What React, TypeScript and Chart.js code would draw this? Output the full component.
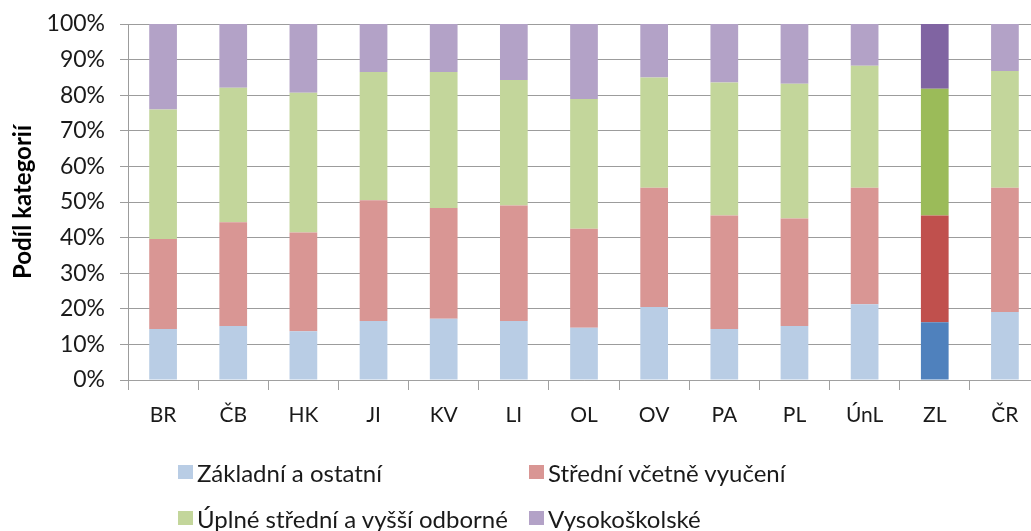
import React, { useEffect, useRef } from "react";
import { Chart, registerables } from "chart.js";

Chart.register(...registerables);

const categories = ["BR", "ČB", "HK", "JI", "KV", "LI", "OL", "OV", "PA", "PL", "ÚnL", "ZL", "ČR"];
const seriesNames = ["Základní a ostatní", "Střední včetně vyučení", "Úplné střední a vyšší odborné", "Vysokoškolské"];
const zakladni = [14.3, 15.2, 13.7, 16.6, 17.2, 16.6, 14.7, 20.5, 14.3, 15.2, 21.3, 16.2, 19.1];
const stredni = [25.3, 29.1, 27.7, 33.9, 31.1, 32.4, 27.8, 33.5, 31.9, 30.2, 32.7, 30.0, 34.9];
const uplne = [36.4, 37.8, 39.3, 36.0, 38.2, 35.3, 36.4, 31.0, 37.4, 37.8, 34.3, 35.6, 32.8];
const vysoko = [24.0, 17.9, 19.3, 13.5, 13.5, 15.7, 21.1, 15.0, 16.4, 16.8, 11.7, 18.2, 13.2];
const yTicks = [0, 10, 20, 30, 40, 50, 60, 70, 80, 90, 100];
const highlighted = "ZL";

const lightColors = ["#b9cde5", "#d99694", "#c3d69b", "#b3a2c7"];
const darkColors = ["#4f81bd", "#c0504d", "#9bbb59", "#8064a2"];
const FONT = "Lato, 'Open Sans', sans-serif";
const TEXT = "#1a1a1a";

export default function App() {
  const ref = useRef<HTMLCanvasElement | null>(null);

  useEffect(() => {
    if (!ref.current) return;
    const values = [zakladni, stredni, uplne, vysoko];
    const chart = new Chart(ref.current, {
      type: "bar",
      data: {
        labels: categories,
        datasets: values.map((v, i) => ({
          label: seriesNames[i],
          data: v,
          backgroundColor: categories.map((c) => (c === highlighted ? darkColors[i] : lightColors[i])),
          borderWidth: 0,
          barPercentage: 0.395,
          categoryPercentage: 1,
        })),
      },
      options: {
        animation: false,
        responsive: false,
        maintainAspectRatio: false,
        layout: { padding: { left: 0, right: 0, top: 24, bottom: 0 } },
        plugins: { legend: { display: false }, tooltip: { enabled: false } },
        scales: {
          x: {
            stacked: true,
            grid: { drawOnChartArea: false, drawTicks: true, tickLength: 10, color: "#a0a0a0", offset: true },
            border: { display: true, color: "#a0a0a0" },
            ticks: { font: { family: FONT, size: 21 }, color: TEXT, padding: 13, maxRotation: 0 },
            afterFit: (s: any) => {
              s.height = 531 - 380;
              s.paddingLeft = 0;
              s.paddingRight = 0;
            },
          },
          y: {
            stacked: true,
            min: 0,
            max: 100,
            afterBuildTicks: (s: any) => {
              s.ticks = yTicks.map((v) => ({ value: v }));
            },
            grid: { color: "#9c9c9c", lineWidth: 1, tickLength: 8 },
            border: { display: true, color: "#9c9c9c" },
            ticks: {
              font: { family: FONT, size: 23 },
              color: TEXT,
              padding: 15,
              callback: (v: any) => v + "%",
            },
            title: {
              display: true,
              text: "Podíl kategorií",
              font: { family: FONT, size: 24, weight: "bold" },
              color: "#000",
              padding: { top: 9, bottom: 0 },
            },
            afterFit: (s: any) => {
              s.width = 128;
              s.paddingTop = 0;
              s.paddingBottom = 0;
            },
          },
        },
      },
    });
    return () => chart.destroy();
  }, []);

  const legendPos = [
    { x: 178, y: 472 },
    { x: 529, y: 472 },
    { x: 178, y: 518 },
    { x: 529, y: 518 },
  ];

  return (
    <div style={{ position: "fixed", left: 0, top: 0, width: 1031, height: 531, background: "#fff", overflow: "hidden" }}>
      <canvas ref={ref} width={1040} height={531} style={{ display: "block", width: 1040, height: 531 }} />
      {seriesNames.map((n, i) => (
        <div
          key={n}
          style={{
            position: "absolute",
            left: legendPos[i].x,
            top: legendPos[i].y - 15,
            height: 30,
            display: "flex",
            alignItems: "center",
            fontFamily: FONT,
            fontSize: 24,
            color: TEXT,
            whiteSpace: "nowrap",
          }}
        >
          <span style={{ display: "inline-block", width: 15, height: 14, background: lightColors[i], marginRight: 4 }} />
          {n}
        </div>
      ))}
    </div>
  );
}
